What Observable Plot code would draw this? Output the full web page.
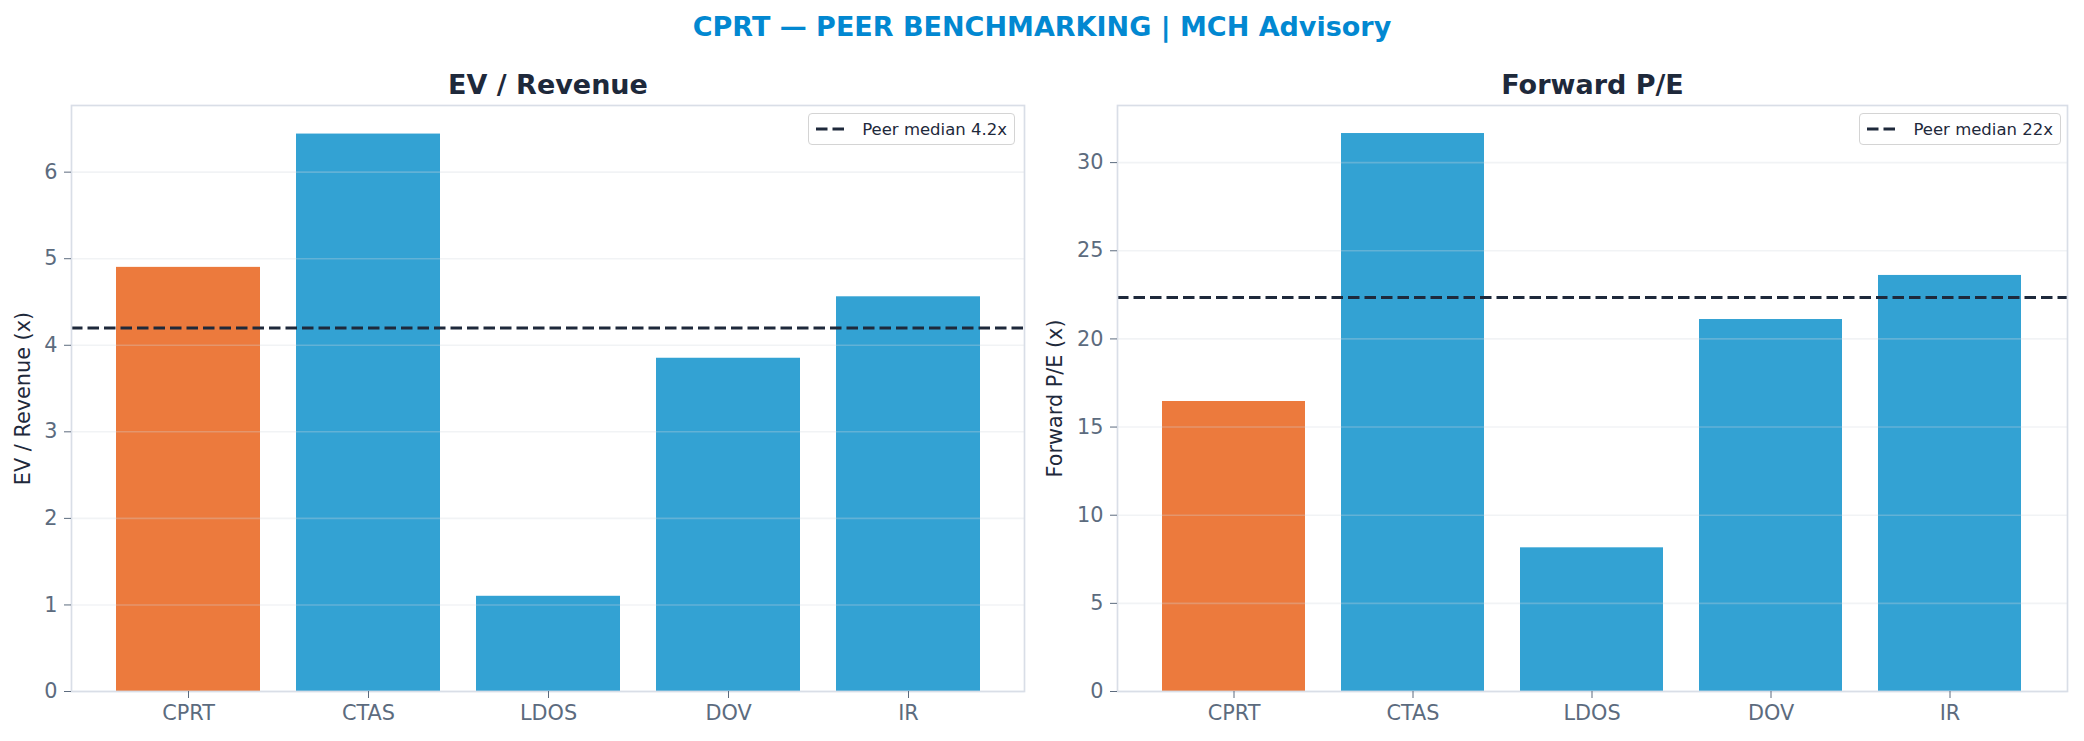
<!DOCTYPE html>
<html>
<head>
<meta charset="utf-8">
<script src="https://cdn.jsdelivr.net/npm/d3@7"></script>
<script src="https://cdn.jsdelivr.net/npm/@observablehq/plot@0.6"></script>
<style>
  html, body { margin: 0; padding: 0; background: #ffffff; }
  #root { position: relative; width: 2084px; height: 741px; font-family: "DejaVu Sans", sans-serif; overflow: hidden; }
  #title { position: absolute; left: 0; top: 10px; width: 2084px; text-align: center; font-size: 27px; font-weight: bold; color: #0288D1; line-height: 34px; }
  .panel { position: absolute; top: 50px; }
  .legend { position: absolute; top: 113px; height: 30px; display: flex; align-items: center; gap: 15px; padding: 0 7px;
            background: rgba(255,255,255,0.85); border: 1.5px solid #d4d4d4; border-radius: 4px; font-size: 16.5px; color: #1e293b; white-space: nowrap; }
</style>
</head>
<body>
<div id="root">
  <div id="title">CPRT — PEER BENCHMARKING | MCH Advisory</div>
</div>
<script>
// ---- data ----
const tickers = ["CPRT", "CTAS", "LDOS", "DOV", "IR"];
const groups = ["Target", "Peer", "Peer", "Peer", "Peer"];
const evRevenue = [4.9, 6.44, 1.1, 3.85, 4.56];
const forwardPE = [16.45, 31.65, 8.15, 21.1, 23.6];
const evMedian = 4.2;
const peMedian = 22.35;
const evTicks = [0, 1, 2, 3, 4, 5, 6];
const peTicks = [0, 5, 10, 15, 20, 25, 30];
const panelTitles = ["EV / Revenue", "Forward P/E"];
const yLabels = ["EV / Revenue (x)", "Forward P/E (x)"];
const legendLabels = ["Peer median 4.2x", "Peer median 22x"];

const ORANGE = "#EC7A3D";
const BLUE = "#33A2D3";
const DARK = "#1e293b";
const TICK = "#5c6b7e";

function panel({values, median, ticks, domain, title, ylabel, marginLeft, marginRight, labelDx}) {
  const rows = tickers.map((t, i) => ({ticker: t, group: groups[i], value: values[i]}));
  return Plot.plot({
    width: 1042,
    height: 691,
    marginTop: 55,
    marginBottom: 50,
    marginLeft,
    marginRight,
    style: {fontFamily: "DejaVu Sans, sans-serif", background: "transparent", overflow: "visible"},
    x: {domain: tickers, paddingInner: 0.2, paddingOuter: 0.24},
    y: {domain, ticks},
    color: {domain: ["Target", "Peer"], range: [ORANGE, BLUE]},
    marks: [
      Plot.barY(rows, {x: "ticker", y: "value", fill: "group"}),
      Plot.gridY(ticks, {stroke: "#cfd6de", strokeOpacity: 0.3, strokeWidth: 1.6}),
      Plot.ruleY([median], {stroke: DARK, strokeWidth: 3, strokeDasharray: "11.5,5"}),
      Plot.frame({stroke: "#d9dee7", strokeWidth: 1.7}),
      Plot.axisX({tickSize: 7, tickPadding: 7, fontSize: 20.8, color: TICK, label: null}),
      Plot.axisY(ticks, {tickSize: 7, tickPadding: 7, fontSize: 20.8, color: TICK, label: null, tickFormat: d => String(d)}),
      Plot.text([title], {frameAnchor: "top", dy: -12, lineAnchor: "bottom", fontSize: 27, fontWeight: "bold", fill: DARK}),
      Plot.text([ylabel], {frameAnchor: "left", dx: labelDx, rotate: -90, textAnchor: "middle", lineAnchor: "middle", fontSize: 20.8, fill: DARK})
    ]
  });
}

const root = document.getElementById("root");

const left = panel({values: evRevenue, median: evMedian, ticks: evTicks, domain: [0, 6.77],
  title: panelTitles[0], ylabel: yLabels[0], marginLeft: 71, marginRight: 18, labelDx: -48});
left.classList.add("panel");
left.style.left = "0px";
root.appendChild(left);

const right = panel({values: forwardPE, median: peMedian, ticks: peTicks, domain: [0, 33.24],
  title: panelTitles[1], ylabel: yLabels[1], marginLeft: 75, marginRight: 17, labelDx: -62});
right.classList.add("panel");
right.style.left = "1042px";
root.appendChild(right);

function legend(text, rightPx) {
  const div = document.createElement("div");
  div.className = "legend";
  div.style.right = rightPx + "px";
  div.innerHTML = `<svg width="31" height="6"><line x1="0" x2="31" y1="3" y2="3" stroke="${DARK}" stroke-width="3" stroke-dasharray="11.5,5"/></svg><span>${text}</span>`;
  root.appendChild(div);
}
legend(legendLabels[0], 2084 - 1015);
legend(legendLabels[1], 2084 - 2061);
</script>
</body>
</html>
